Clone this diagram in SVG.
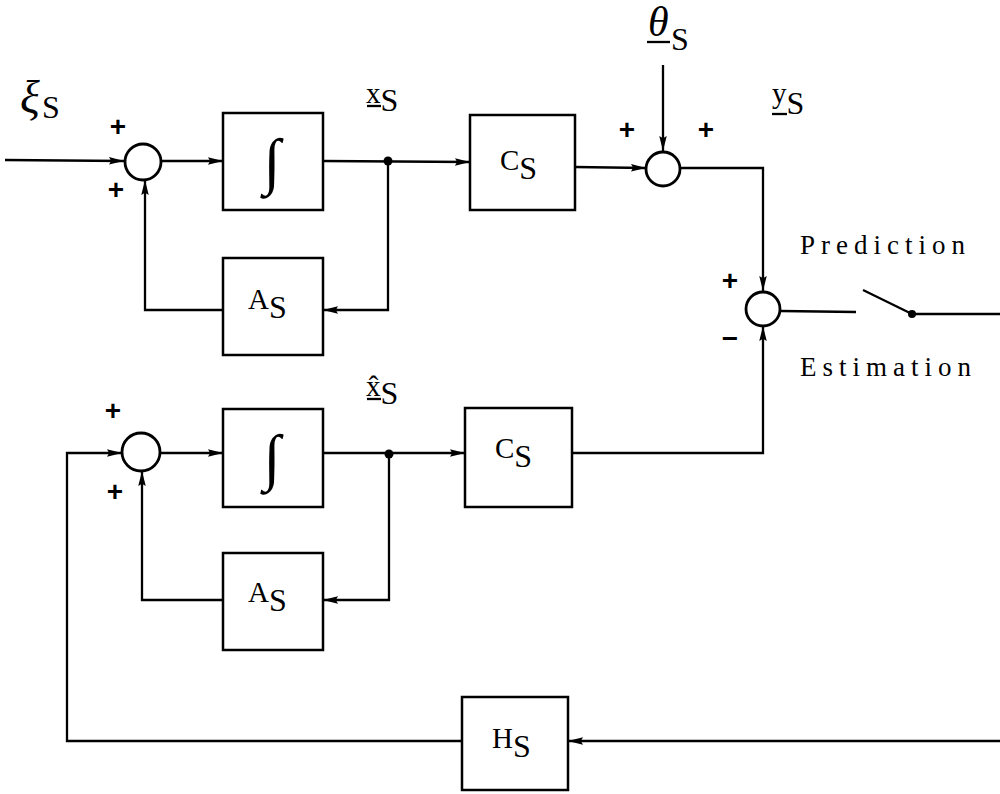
<svg xmlns="http://www.w3.org/2000/svg" width="1000" height="794" viewBox="0 0 1000 794">
<defs>
<marker id="arr" viewBox="0 0 14 10" refX="14" refY="5" markerWidth="15" markerHeight="11" markerUnits="userSpaceOnUse" orient="auto">
<path d="M0,1.5 L14,5 L0,8.5 L2,5 z" fill="#000"/>
</marker>
</defs>
<style>
.box{fill:#fff;stroke:#000;stroke-width:2.5}
.sum{fill:#fff;stroke:#000;stroke-width:2.8}
.ln{fill:none;stroke:#000;stroke-width:2.3}
.t{font-family:"Liberation Serif",serif;fill:#000}
.lbl{font-family:"Liberation Serif",serif;font-size:29px;fill:#000}
.sub{font-size:32px}
.sgn{font-family:"Liberation Sans",sans-serif;font-size:28px;font-weight:bold;fill:#000}
.word{font-family:"Liberation Serif",serif;font-size:27px;letter-spacing:6px;fill:#000}
</style>
<rect width="1000" height="794" fill="#fff"/>

<g id="connectors">
<path class="ln" d="M5,160 L124,161" marker-end="url(#arr)"/>
<path class="ln" d="M161,161 L223,161" marker-end="url(#arr)"/>
<path class="ln" d="M323,161 L470,162" marker-end="url(#arr)"/>
<path class="ln" d="M388,161 L388,310 L323,310" marker-end="url(#arr)"/>
<path class="ln" d="M223,310 L145,310 L145,180" marker-end="url(#arr)"/>
<path class="ln" d="M575,167 L646,168" marker-end="url(#arr)"/>
<path class="ln" d="M663,65 L663,151" marker-end="url(#arr)"/>
<path class="ln" d="M680,168 L763,168 L763,291" marker-end="url(#arr)"/>
<path class="ln" d="M781,311 L856,312"/>
<path class="ln" d="M863,290 L912,314"/>
<path class="ln" d="M912,314 L1000,314"/>
<path class="ln" d="M160,453 L223,453" marker-end="url(#arr)"/>
<path class="ln" d="M323,453 L465,453" marker-end="url(#arr)"/>
<path class="ln" d="M389,454 L389,600 L323,600" marker-end="url(#arr)"/>
<path class="ln" d="M223,600 L142,600 L142,471" marker-end="url(#arr)"/>
<path class="ln" d="M572,453 L763,453 L763,326" marker-end="url(#arr)"/>
<path class="ln" d="M1000,741 L568,741" marker-end="url(#arr)"/>
<path class="ln" d="M462,741 L67,741 L67,453 L122,453" marker-end="url(#arr)"/>
<circle cx="388" cy="161" r="4.5" fill="#000"/>
<circle cx="389" cy="454" r="4.5" fill="#000"/>
<circle cx="912" cy="314" r="4" fill="#000"/>
</g>

<g id="sum1"><circle class="sum" cx="143" cy="162" r="18"/></g>
<g id="int1"><rect class="box" x="223" y="113" width="100" height="97"/><text class="t" x="272" y="182" font-size="62" font-style="italic" text-anchor="middle">∫</text></g>
<g id="A1"><rect class="box" x="223" y="258" width="100" height="97"/><text class="lbl" x="248" y="309">A<tspan class="sub" dy="9">S</tspan></text></g>
<g id="C1"><rect class="box" x="470" y="115" width="105" height="95"/><text class="lbl" x="500" y="170">C<tspan class="sub" dy="9">S</tspan></text></g>
<g id="sum2"><circle class="sum" cx="663" cy="169" r="17"/></g>
<g id="sum3"><circle class="sum" cx="763" cy="309" r="17"/></g>

<g id="sum4"><circle class="sum" cx="141" cy="452" r="19"/></g>
<g id="int2"><rect class="box" x="223" y="409" width="100" height="98"/><text class="t" x="272" y="478" font-size="62" font-style="italic" text-anchor="middle">∫</text></g>
<g id="A2"><rect class="box" x="223" y="553" width="100" height="97"/><text class="lbl" x="248" y="602">A<tspan class="sub" dy="9">S</tspan></text></g>
<g id="C2"><rect class="box" x="465" y="408" width="107" height="99"/><text class="lbl" x="495" y="458">C<tspan class="sub" dy="9">S</tspan></text></g>
<g id="H"><rect class="box" x="462" y="697" width="106" height="93"/><text class="lbl" x="492" y="748">H<tspan class="sub" dy="9">S</tspan></text></g>

<g id="labels">
<text class="t" x="20" y="113" font-size="46" font-style="italic">ξ</text>
<text class="lbl" x="42" y="118"><tspan class="sub">S</tspan></text>
<text class="lbl" x="366" y="103">x<tspan class="sub" dy="8">S</tspan></text>
<path class="ln" d="M367,106 L381,106"/>
<text class="lbl" x="366" y="396">x̂<tspan class="sub" dy="8">S</tspan></text>
<path class="ln" d="M367,399 L381,399"/>
<text class="lbl" x="772" y="103">y<tspan class="sub" dy="11">S</tspan></text>
<path class="ln" d="M772,114 L787,114"/>
<text class="t" x="648" y="36" font-size="42" font-style="italic">θ</text>
<text class="lbl" x="671" y="50"><tspan class="sub">S</tspan></text>
<path class="ln" d="M647,42 L670,42" stroke-width="2.8"/>

<text class="sgn" x="118" y="136" text-anchor="middle">+</text>
<text class="sgn" x="116" y="199" text-anchor="middle">+</text>
<text class="sgn" x="627" y="139" text-anchor="middle">+</text>
<text class="sgn" x="706" y="139" text-anchor="middle">+</text>
<text class="sgn" x="730" y="290" text-anchor="middle">+</text>
<text class="sgn" x="730" y="348" text-anchor="middle">−</text>
<text class="sgn" x="113" y="420" text-anchor="middle">+</text>
<text class="sgn" x="115" y="501" text-anchor="middle">+</text>

<text class="word" x="800" y="254">Prediction</text>
<text class="word" x="800" y="376">Estimation</text>
</g>
</svg>
